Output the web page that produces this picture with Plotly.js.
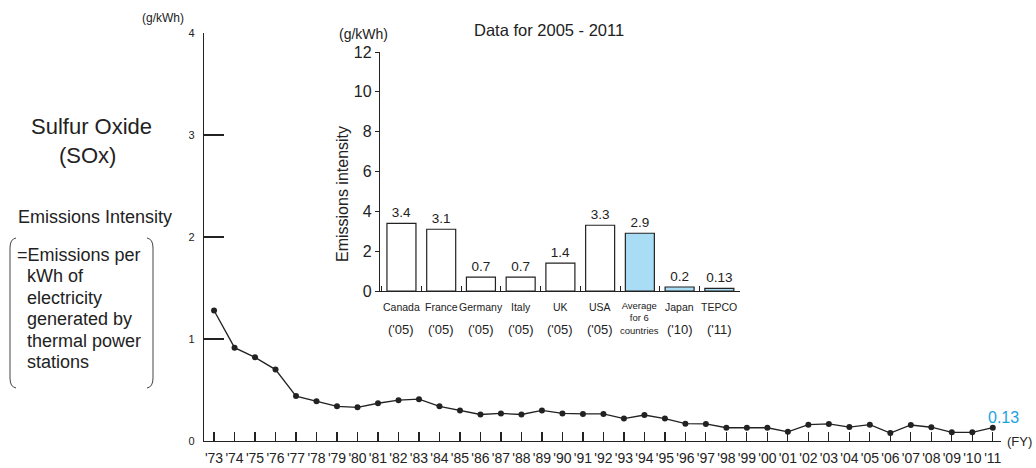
<!DOCTYPE html>
<html>
<head>
<meta charset="utf-8">
<script src="https://cdn.plot.ly/plotly-3.0.1.min.js"></script>
<style>html,body{margin:0;padding:0;background:#fff;}#chart{width:1036px;height:468px;}</style>
</head>
<body>
<div id="chart"></div>
<script>
// ---- Main series: SOx emissions intensity (g/kWh), FY1973-2011
const fiscalYears = ["'73","'74","'75","'76","'77","'78","'79","'80","'81","'82","'83","'84","'85","'86","'87","'88","'89","'90","'91","'92","'93","'94","'95","'96","'97","'98","'99","'00","'01","'02","'03","'04","'05","'06","'07","'08","'09","'10","'11"];
const soxIntensity = [1.28,0.915,0.82,0.70,0.44,0.39,0.34,0.33,0.37,0.40,0.41,0.34,0.30,0.26,0.27,0.26,0.30,0.27,0.265,0.265,0.22,0.255,0.22,0.17,0.167,0.13,0.13,0.13,0.09,0.16,0.167,0.137,0.16,0.078,0.157,0.135,0.085,0.085,0.13];
const mainYTicks = [0,1,2,3,4];

// ---- Inset: international comparison
const countryKeys = ["Canada","France","Germany","Italy","UK","USA","Average","Japan","TEPCO"];
const countryNames = ["Canada","France","Germany","Italy","UK","USA","Average<br>for 6<br>countries","Japan","TEPCO"];
const countryYears = ["('05)","('05)","('05)","('05)","('05)","('05)","","('10)","('11)"];
const countryValues = [3.4,3.1,0.7,0.7,1.4,3.3,2.9,0.2,0.13];
const highlighted = ["Average","Japan","TEPCO"];
const insetYTicks = [0,2,4,6,8,10,12];

// ---- Side text
const definitionLines = ["=Emissions per", "&nbsp;&nbsp;kWh of", "&nbsp;&nbsp;electricity", "&nbsp;&nbsp;generated by", "&nbsp;&nbsp;thermal power", "&nbsp;&nbsp;stations"];

const W = 1036, H = 468;
const px = x => x / W;
const py = y => 1 - y / H;
const FONT = "'Liberation Sans', Arial, Helvetica, sans-serif";
const BLUE = "#a9dcf5";

const lineTrace = {
  type: "scatter", mode: "lines+markers",
  x: fiscalYears, y: soxIntensity,
  xaxis: "x", yaxis: "y",
  line: {color: "#222", width: 1.3},
  marker: {color: "#222", size: 6},
  cliponaxis: false, hoverinfo: "skip"
};

const barTrace = {
  type: "bar",
  x: countryKeys, y: countryValues,
  xaxis: "x2", yaxis: "y2",
  width: 0.73,
  marker: {color: countryKeys.map(k => highlighted.includes(k) ? BLUE : "#ffffff"), line: {color: "#222", width: 1.2}},
  text: countryValues.map(String),
  textposition: "outside",
  textfont: {family: FONT, size: 13.5, color: "#222"},
  cliponaxis: false, hoverinfo: "skip"
};

const annotations = [];
countryKeys.forEach((k, i) => {
  const isAvg = k === "Average";
  annotations.push({
    xref: "x2", yref: "paper", x: k, y: isAvg ? py(318) : py(306.5),
    text: countryNames[i], showarrow: false, xanchor: "center", yanchor: "middle",
    font: {family: FONT, size: isAvg ? 9.5 : 10.5, color: "#222"}
  });
  if (countryYears[i]) annotations.push({
    xref: "x2", yref: "paper", x: k, y: py(329.5),
    text: countryYears[i], showarrow: false, xanchor: "center", yanchor: "middle",
    font: {family: FONT, size: 13, color: "#222"}
  });
});
annotations.push({
  xref: "x", yref: "y", x: fiscalYears[fiscalYears.length - 1], y: soxIntensity[soxIntensity.length - 1],
  text: String(soxIntensity[soxIntensity.length - 1]), showarrow: false, xanchor: "center", yanchor: "bottom",
  xshift: 11, yshift: 0, font: {family: FONT, size: 16, color: "#1aa3e0"}
});
const txt = (x, y, text, size, opts = {}) => annotations.push(Object.assign({
  xref: "paper", yref: "paper", x: px(x), y: py(y), text, showarrow: false,
  xanchor: "center", yanchor: "middle", font: {family: FONT, size, color: "#222"}
}, opts));
txt(163, 18, "(g/kWh)", 12);
txt(1005, 441, "(FY)", 13, {xanchor: "left"});
txt(363, 34, "(g/kWh)", 14);
txt(549, 30, "Data for 2005 - 2011", 16.5);
txt(342, 194, "Emissions intensity", 16, {textangle: -90});
txt(91, 127, "Sulfur Oxide", 22);
txt(87, 156, "(SOx)", 22);
txt(95, 217, "Emissions Intensity", 18);
definitionLines.forEach((line, i) => txt(15, 255 + i * 21.4, line, 18, {xanchor: "left", align: "left"}));

// brackets
const P = (x, y) => `${px(x)},${py(y)}`;
const shapes = [
  {type: "path", xref: "paper", yref: "paper", line: {color: "#444", width: 1},
   path: `M ${P(16,238)} Q ${P(10,239)} ${P(10,248)} L ${P(10,378)} Q ${P(10,387)} ${P(16,388)}`},
  {type: "path", xref: "paper", yref: "paper", line: {color: "#444", width: 1},
   path: `M ${P(147,238)} Q ${P(153,239)} ${P(153,248)} L ${P(153,378)} Q ${P(153,387)} ${P(147,388)}`}
];

const layout = {
  width: W, height: H,
  margin: {l: 0, r: 0, t: 0, b: 0},
  paper_bgcolor: "#fff", plot_bgcolor: "rgba(0,0,0,0)",
  showlegend: false,
  font: {family: FONT, color: "#222"},
  xaxis: {
    domain: [px(204), px(1001)], anchor: "y", type: "category",
    range: [-0.49, 38.4], showgrid: false, zeroline: false,
    showline: true, linecolor: "#222", linewidth: 1.2,
    ticks: "inside", ticklen: 9, tickcolor: "#222", tickwidth: 1.2,
    tickangle: 0, ticklabelstandoff: 4,
    tickfont: {family: FONT, size: 14, color: "#222"}, automargin: false, fixedrange: true
  },
  yaxis: {
    domain: [py(441), py(33)], anchor: "x", range: [0, 4],
    tickvals: mainYTicks, showgrid: false, zeroline: false,
    showline: true, linecolor: "#222", linewidth: 1.2,
    ticks: "inside", ticklen: 20, tickcolor: "#222", tickwidth: 1.2,
    ticklabelstandoff: 6,
    tickfont: {family: FONT, size: 11, color: "#222"}, automargin: false, fixedrange: true
  },
  xaxis2: {
    domain: [px(380), px(740)], anchor: "y2", type: "category",
    range: [-0.54, 8.52], showgrid: false, zeroline: false,
    showline: true, linecolor: "#222", linewidth: 1.2,
    ticks: "inside", tickson: "boundaries", ticklen: 5, tickcolor: "#222",
    showticklabels: false, automargin: false, fixedrange: true
  },
  yaxis2: {
    domain: [py(291), py(52)], anchor: "x2", range: [0, 12],
    tickvals: insetYTicks, showgrid: false, zeroline: false,
    showline: true, linecolor: "#222", linewidth: 1.2,
    ticks: "outside", ticklen: 4, tickcolor: "#222",
    tickfont: {family: FONT, size: 16, color: "#222"}, automargin: false, fixedrange: true
  },
  annotations, shapes
};

Plotly.newPlot("chart", [lineTrace, barTrace], layout, {staticPlot: true, displayModeBar: false});
</script>
</body>
</html>
